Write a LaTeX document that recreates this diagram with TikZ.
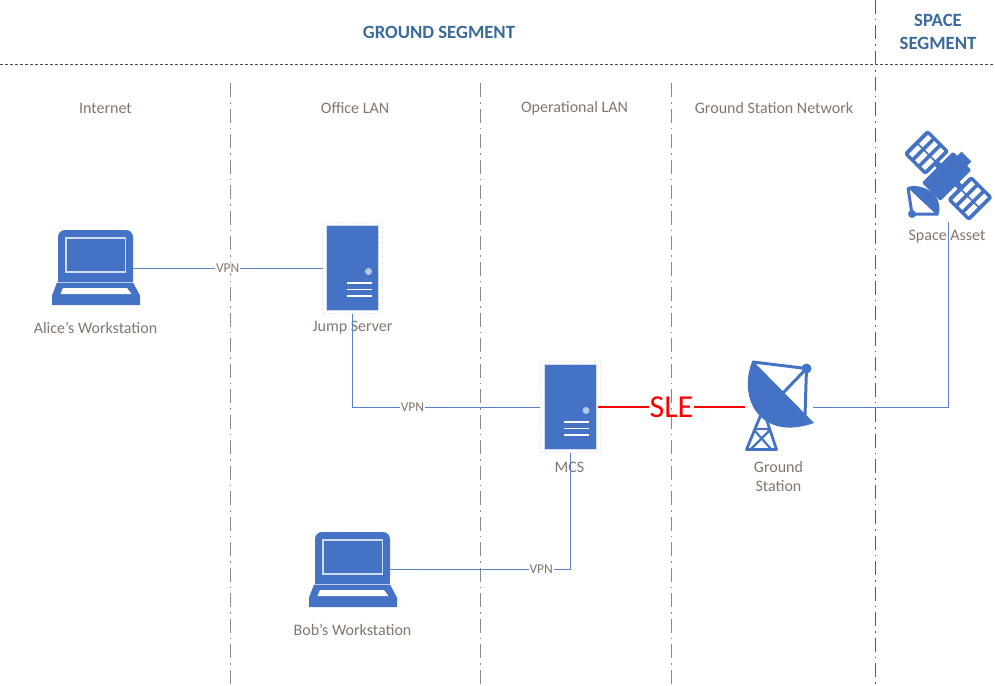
\documentclass[tikz,border=0pt]{standalone}
\usepackage{fontspec}
\setmainfont{Carlito}
\definecolor{iconblue}{HTML}{4472C4}
\definecolor{linkblue}{HTML}{5B82C8}
\definecolor{headblue}{HTML}{3A6A9B}
\definecolor{labelbrown}{HTML}{84756A}
\definecolor{divgray}{HTML}{8A8A8A}
\tikzset{
  anchorbox/.style={inner sep=0pt,outer sep=0pt,draw=none},
  serverbox/.style={anchorbox,minimum width=60pt,minimum height=91pt,draw=black!8,densely dashed,line width=.6pt},
  laptopbox/.style={anchorbox,minimum width=75pt,minimum height=75pt},
  head/.style={font=\fontsize{18.7}{23}\selectfont\bfseries,text=headblue,align=center,inner sep=0pt},
  zone/.style={font=\fontsize{16}{19}\selectfont,text=labelbrown,align=center,inner sep=0pt},
  vpn/.style={font=\fontsize{13.5}{14}\selectfont,text=labelbrown,fill=white,inner sep=1pt},
  divider/.style={divgray,line width=.9pt,dash pattern=on 14pt off 5pt on 1.5pt off 5pt},
  link/.style={linkblue,line width=1pt},
  sle/.style={red,line width=2.2pt},
  pics/laptop/.style={code={
    \fill[iconblue,rounded corners=7pt] (-37.5,-37.5) -- (37.5,-37.5) -- (37.5,14) -- (-37.5,14) -- cycle;
    \fill[iconblue] (-37.5,8) rectangle (37.5,14);
    \draw[white!75!iconblue,line width=1.1pt] (-29.5,-29.5) rectangle (30,4.5);
    \fill[iconblue] (-38.5,15) -- (37.5,15) -- (44.5,28) -- (44.5,37.5) -- (-43.5,37.5) -- (-43.5,28) -- cycle;
    \fill[white] (-32.5,20.5) -- (31.5,20.5) -- (36,26.5) -- (-35,26.5) -- cycle;
  }},
  pics/server/.style={code={
    \fill[iconblue,draw=white!75!iconblue,line width=.8pt] (-26,-42.5) rectangle (26,42.5);
    \fill[white!60!iconblue] (16,3.5) circle (3.5pt);
    \draw[white,line width=1.5pt] (-6,15) -- (19,15) (-6,21.5) -- (19,21.5) (-6,28) -- (19,28);
  }},
  pics/panel/.style={code={
    \fill[iconblue,rounded corners=3pt] (-17,-15.5) rectangle (17,15.5);
    \foreach \b in {-11.5,-2.5,6.5} \foreach \a in {-13.5,1} {
      \fill[white] (\a,\b) rectangle ++(12.5,5);
    }
  }}
}
\begin{document}
\begin{tikzpicture}[x=1pt,y=-1pt]
\useasboundingbox (0,0) rectangle (995,685);
% dividers
\draw[black!70,line width=.7pt,densely dashed] (0,64) -- (995,64);
\draw[divider] (230,83) -- (230,685);
\draw[divider] (480,83) -- (480,685);
\draw[divider] (671,83) -- (671,685);
\draw[divider,black!65] (875,0) -- (875,685);
% headers
\node[head] (ground) at (439,32) {GROUND SEGMENT};
\node[head] (space) at (938,31.5) {SPACE\\SEGMENT};
\node[zone] (internet) at (105.5,108.5) {Internet};
\node[zone] (office) at (355,108.5) {Office LAN};
\node[zone] (oplan) at (574.5,108.5) {Operational LAN};
\node[zone] (gsn) at (774,108.5) {Ground Station Network};
% labels
\node[zone] (alicel) at (95.5,328) {Alice’s Workstation};
\node[zone] (jumpl) at (352.5,328) {Jump Server};
\node[zone] (mcsl) at (569.5,467.5) {MCS};
\node[zone] (gsl) at (778.5,476.5) {Ground\\Station};
\node[zone] (bobl) at (352.5,630) {Bob’s Workstation};
\node[zone] (satl) at (947,236.5) {Space Asset};
% anchor boxes
\node[laptopbox] (alice) at (95.5,267.5) {};
\node[serverbox] (jump) at (352.5,268) {};
\node[serverbox] (mcs) at (570,407) {};
\node[laptopbox] (bob) at (352.5,569.5) {};
\node[anchorbox,minimum width=68pt,minimum height=92pt] (gs) at (779,407) {};
\node[anchorbox,minimum width=87pt,minimum height=90pt] (sat) at (948,177) {};
% icons
\pic at (alice) {laptop};
\pic at (bob) {laptop};
\pic at (jump) {server};
\pic at (mcs) {server};
% ground station dish
\begin{scope}[iconblue]
  \draw[line width=3pt] (753,362) -- (806.5,368.5) -- (805,415);
  \draw[line width=3pt] (806.5,368.5) -- (783,393);
  \fill (806.5,368.5) circle (5pt);
  \fill (752.5,360.5) .. controls (737,398) and (760,442) .. (814,423) -- cycle;
  \draw[line width=2.8pt,line join=round] (762,412) -- (746.5,449.5) -- (776.5,449.5) -- (764,412);
  \draw[line width=2.2pt] (755,431) -- (771,449) (769,431) -- (751,449) (756,429) -- (769,429);
\end{scope}
% satellite
\begin{scope}[iconblue]
  \pic[rotate=45] at (926.5,152.5) {panel};
  \pic[rotate=45] at (970,198.5) {panel};
  \begin{scope}[shift={(948,175)},rotate=45]
    \fill[rounded corners=1.5pt] (-24,-13) rectangle (20,13);
    \fill (19,-7) rectangle (26,7);
    \fill (-3,-18) rectangle (3,18);
  \end{scope}
  \draw[line width=3pt] (908,188) -- (912,214) -- (937,214);
  \fill (912,214) circle (4pt);
  \fill (907,187) .. controls (926,182) and (945,198) .. (938,216) -- cycle;
  \fill[white] (917.5,199.5) -- (927,209.5) -- (916.5,210.5) -- cycle;
\end{scope}
% connectors
\draw[link] (alice.east |- jump.west) -- node[vpn,pos=.5] (vpna) {VPN} (jump.west);
\draw[link] (jump.south) |- node[vpn,pos=.66] (vpnb) {VPN} (mcs.west);
\draw[link] (bob.east) -| node[vpn,pos=.42] (vpnc) {VPN} (mcs.south);
\draw[link] (gs.east) -| (sat.south);
\node[font=\fontsize{32}{33}\selectfont,text=red,inner sep=0pt] (slelabel) at (671.5,407) {SLE};
\draw[sle] (mcs.east) ++(-2,0) -- (slelabel.west);
\draw[sle] (slelabel.east) -- (gs.west);
\end{tikzpicture}
\end{document}
